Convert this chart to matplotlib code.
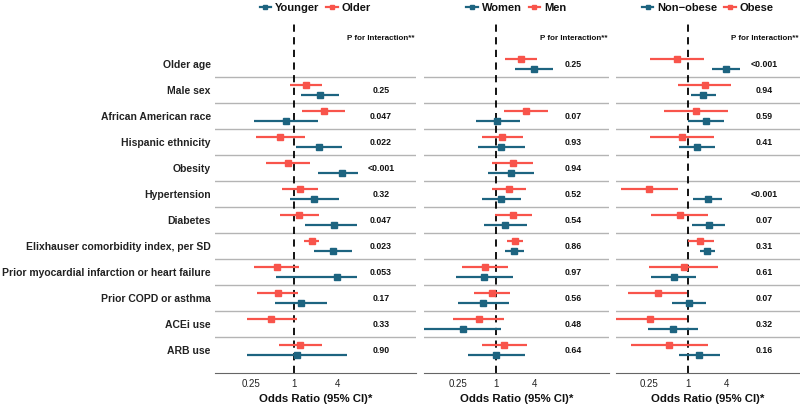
#!/usr/bin/env python

import numpy as np
import matplotlib
matplotlib.use("Agg")
from matplotlib import pyplot as plt
from matplotlib.lines import Line2D

nan = np.nan

rows = ["Older age", "Male sex", "African American race", "Hispanic ethnicity",
        "Obesity", "Hypertension", "Diabetes", "Elixhauser comorbidity index, per SD",
        "Prior myocardial infarction or heart failure", "Prior COPD or asthma",
        "ACEi use", "ARB use"]

ticks = [0.25, 1, 4]
tick_labels = ["0.25", "1", "4"]

# panel 1: age strata
young_or = [nan, 2.3, 0.77, 2.2, 4.63, 1.91, 3.55, 3.47, 3.9, 1.24, nan, 1.09]
young_lo = [nan, 1.25, 0.28, 1.07, 2.15, 0.88, 1.42, 1.9, 0.56, 0.545, nan, 0.22]
young_hi = [nan, 4.25, 2.17, 4.6, 7.6, 4.17, 7.56, 6.3, 7.5, 2.84, nan, 5.4]
old_or = [nan, 1.45, 2.58, 0.64, 0.82, 1.21, 1.17, 1.76, 0.575, 0.59, 0.48, 1.21]
old_lo = [nan, 0.88, 1.3, 0.30, 0.41, 0.69, 0.64, 1.38, 0.28, 0.31, 0.22, 0.61]
old_hi = [nan, 2.42, 5.1, 1.41, 1.67, 2.17, 2.2, 2.24, 1.18, 1.14, 1.09, 2.42]
p_age = ["", "0.25", "0.047", "0.022", "<0.001", "0.32", "0.047", "0.023",
         "0.053", "0.17", "0.33", "0.90"]

# panel 2: sex strata
women_or = [3.87, nan, 1.05, 1.2, 1.73, 1.21, 1.38, 1.91, 0.65, 0.62, 0.305, 1.0]
women_lo = [1.98, nan, 0.48, 0.52, 0.76, 0.6, 0.64, 1.37, 0.235, 0.25, 0.07, 0.36]
women_hi = [7.67, nan, 2.37, 2.8, 3.95, 2.43, 3.0, 2.7, 1.82, 1.58, 1.2, 2.83]
men_or = [2.43, nan, 2.94, 1.25, 1.82, 1.58, 1.84, 1.98, 0.67, 0.87, 0.54, 1.35]
men_lo = [1.38, nan, 1.35, 0.6, 0.87, 0.87, 0.97, 1.47, 0.29, 0.45, 0.216, 0.6]
men_hi = [4.3, nan, 6.4, 2.64, 3.78, 2.9, 3.65, 2.64, 1.54, 1.67, 1.33, 3.04]
p_sex = ["0.25", "", "0.07", "0.93", "0.94", "0.52", "0.54", "0.86",
         "0.97", "0.56", "0.48", "0.64"]

# panel 3: obesity strata
nonob_or = [4.0, 1.76, 1.93, 1.38, nan, 2.05, 2.12, 2.03, 0.61, 1.03, 0.58, 1.52]
nonob_lo = [2.43, 1.13, 1.0, 0.73, nan, 1.2, 1.17, 1.56, 0.27, 0.57, 0.24, 0.73]
nonob_hi = [6.7, 2.73, 3.65, 2.64, nan, 3.5, 3.9, 2.67, 1.37, 1.91, 1.43, 3.16]
obese_or = [0.67, 1.84, 1.35, 0.81, nan, 0.25, 0.75, 1.56, 0.86, 0.34, 0.26, 0.51]
obese_lo = [0.26, 0.7, 0.43, 0.255, nan, 0.09, 0.27, 1.0, 0.25, 0.117, 0.07, 0.13]
obese_hi = [1.82, 4.86, 4.3, 2.54, nan, 0.7, 2.05, 2.6, 2.94, 0.98, 0.98, 2.05]
p_obese = ["<0.001", "0.94", "0.59", "0.41", "", "<0.001", "0.07", "0.31",
           "0.61", "0.07", "0.32", "0.16"]

TEAL = "#1d6480"
RED = "#f8544b"


def draw_panel(ax, names, blue, red, pvals, xlim):
    y = np.arange(len(rows))
    # row separators
    for k in range(len(rows) - 1):
        ax.axhline(k + 0.5, color="#b4b4b4", lw=1.0, zorder=0)
    ax.axvline(1, color="black", ls=(0, (4, 3)), lw=1.3, zorder=1)

    for vals, col, off in [(red, RED, -0.2), (blue, TEAL, 0.2)]:
        est, lo, hi = [np.array(v) for v in vals]
        ax.hlines(y + off, lo, hi, color=col, lw=1.6, zorder=2)
        ax.plot(est, y + off, "s", color=col, ms=4.5, zorder=3, lw=0)

    for k, p in enumerate(pvals):
        if p:
            ax.text(16, k, p, ha="center", va="center", fontsize=6.3,
                    fontweight="bold", color="#111111")
    ax.text(16, -1.0, "P for Interaction**", ha="center", va="center",
            fontsize=5.8, fontweight="bold", color="#111111")

    ax.set_xscale("log", base=2)
    ax.set_xlim(xlim)
    ax.set_ylim(11.88, -1.62)
    ax.set_xticks(ticks)
    ax.set_xticklabels(tick_labels)
    ax.minorticks_off()
    ax.tick_params(axis="x", length=0, pad=4, labelsize=7, labelcolor="#222222")
    ax.tick_params(axis="y", length=0)
    for s in ["top", "right", "left"]:
        ax.spines[s].set_visible(False)
    ax.spines["bottom"].set_color("#666666")
    ax.spines["bottom"].set_linewidth(0.8)
    ax.set_xlabel("Odds Ratio (95% CI)*", fontsize=8.2, fontweight="bold",
                  color="#111111", labelpad=4)

    handles = [Line2D([], [], color=TEAL, marker="s", ms=3.5, lw=1.6),
               Line2D([], [], color=RED, marker="s", ms=3.5, lw=1.6)]
    leg = ax.legend(handles, names, loc="center", bbox_to_anchor=(0.5, 1.04),
                    ncol=2, frameon=False, handlelength=1.0, handletextpad=0.4,
                    columnspacing=0.6, prop={"weight": "bold", "size": 8})
    for t in leg.get_texts():
        t.set_color("#111111")


def main():
    plt.rcParams["font.family"] = ["Liberation Sans", "DejaVu Sans"]
    fig = plt.figure(figsize=(8, 4.13), dpi=100)

    bottom = 40 / 413
    height = 351 / 413
    ax1 = fig.add_axes([215 / 800, bottom, 201 / 800, height])
    ax2 = fig.add_axes([424 / 800, bottom, 185 / 800, height])
    ax3 = fig.add_axes([616 / 800, bottom, 184 / 800, height])

    draw_panel(ax1, ["Younger", "Older"], (young_or, young_lo, young_hi),
               (old_or, old_lo, old_hi), p_age, (0.08, 49))
    draw_panel(ax2, ["Women", "Men"], (women_or, women_lo, women_hi),
               (men_or, men_lo, men_hi), p_sex, (0.075, 57.7))
    draw_panel(ax3, ["Non\u2212obese", "Obese"], (nonob_or, nonob_lo, nonob_hi),
               (obese_or, obese_lo, obese_hi), p_obese, (0.075, 57.7))

    # row labels only on the first panel
    ax1.set_yticks(np.arange(len(rows)))
    ax1.set_yticklabels(rows, fontsize=7.5, fontweight="bold", color="#222222")
    ax1.tick_params(axis="y", pad=3)
    ax2.set_yticks([])
    ax3.set_yticks([])

    fig.savefig("out.png", dpi=100)


if __name__ == "__main__":
    main()
